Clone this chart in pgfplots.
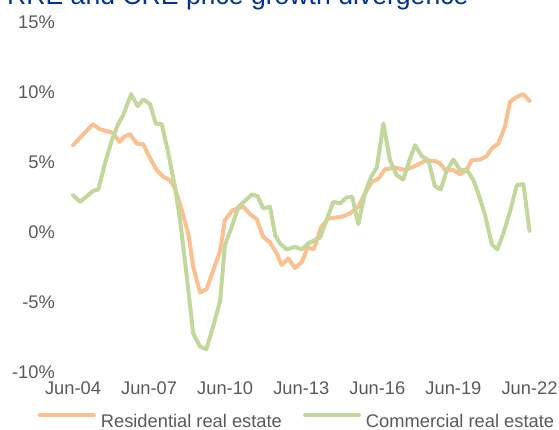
\documentclass[border=0pt]{standalone}
\usepackage{pgfplots}
\pgfplotsset{compat=1.18}
\usepackage{fontspec}
\setmainfont{Liberation Sans}
\definecolor{rre}{HTML}{FAC090}
\definecolor{cre}{HTML}{C3D69B}
\definecolor{txt}{HTML}{595959}
\definecolor{titleblue}{RGB}{0,50,153}
\begin{document}
\begin{tikzpicture}[x=1bp,y=1bp]
\useasboundingbox (0,0) rectangle (559,429);
\node[anchor=base west, inner sep=0pt, font=\fontsize{26.6bp}{30bp}\selectfont, text=titleblue] at (7,424.5) {RRE and CRE price growth divergence};
\begin{axis}[
  at={(73bp,57.3bp)}, anchor=south west,
  scale only axis, width=456.5bp, height=349.7bp,
  xmin=2004.5, xmax=2022.5, ymin=-10, ymax=15,
  clip=false,
  axis line style={draw=none},
  major tick length=0pt,
  tick style={draw=none},
  xtick={2004.5,2007.5,2010.5,2013.5,2016.5,2019.5,2022.5},
  xticklabels={Jun-04,Jun-07,Jun-10,Jun-13,Jun-16,Jun-19,Jun-22},
  ytick={-10,-5,0,5,10,15},
  yticklabels={-10\%,-5\%,0\%,5\%,10\%,15\%},
  ticklabel style={font=\fontsize{18.3bp}{21bp}\selectfont, text=txt},
  yticklabel style={anchor=east, inner sep=0pt, xshift=-18bp},
  xticklabel style={anchor=north, inner sep=0pt, yshift=-10.3bp},
  legend style={at={(0.4885,-0.141)}, anchor=center, draw=none, fill=none,
    legend columns=2, font=\fontsize{18.3bp}{21bp}\selectfont, text=txt,
    nodes={inner sep=0pt},
    /tikz/every odd column/.append style={column sep=5bp},
    /tikz/every even column/.append style={column sep=21bp}},
  legend image code/.code={\draw[#1, line width=4bp] (0bp,6bp) -- (54bp,6bp);},
  every axis plot/.append style={line width=4bp, line join=round, line cap=round},
]
\addplot[rre] coordinates {
(2004.50,6.19) (2005.28,7.69) (2005.56,7.34) (2006.08,7.07) (2006.33,6.43)
(2006.55,6.84) (2006.75,6.98) (2007.01,6.31) (2007.27,6.26) (2007.54,5.26)
(2007.80,4.41) (2008.06,3.93) (2008.32,3.69) (2008.52,3.12) (2008.79,1.55)
(2009.05,-0.16) (2009.24,-2.50) (2009.51,-4.34) (2009.77,-4.09) (2010.03,-2.74)
(2010.30,-1.38) (2010.49,0.84) (2010.79,1.55) (2011.22,1.79) (2011.48,1.26)
(2011.74,0.91) (2012.00,-0.36) (2012.27,-0.77) (2012.53,-1.54) (2012.73,-2.38)
(2012.99,-1.90) (2013.25,-2.59) (2013.52,-2.16) (2013.75,-1.13) (2014.00,-1.24)
(2014.28,0.34) (2014.57,0.96) (2015.10,1.07) (2015.42,1.31) (2015.75,1.79)
(2016.01,2.74) (2016.28,3.57) (2016.54,3.81) (2016.80,4.46) (2017.20,4.60)
(2017.59,4.41) (2018.05,4.76) (2018.38,5.07) (2018.77,5.07) (2018.97,4.89)
(2019.17,4.41) (2019.50,4.41) (2019.76,4.12) (2020.02,4.41) (2020.22,5.12)
(2020.55,5.17) (2020.81,5.41) (2021.01,5.96) (2021.27,6.31) (2021.53,7.50)
(2021.73,9.29) (2022.00,9.64) (2022.26,9.84) (2022.50,9.36)
};
\addlegendentry{Residential real estate}
\addplot[cre] coordinates {
(2004.50,2.62) (2004.78,2.14) (2005.30,2.93) (2005.50,3.03) (2005.76,4.89)
(2006.03,6.55) (2006.29,7.74) (2006.48,8.34) (2006.79,9.84) (2007.05,8.98)
(2007.27,9.46) (2007.54,9.12) (2007.76,7.74) (2008.00,7.69) (2008.26,5.60)
(2008.52,3.21) (2008.72,0.84) (2008.98,-3.09) (2009.24,-7.26) (2009.51,-8.21)
(2009.76,-8.38) (2010.03,-6.74) (2010.30,-4.95) (2010.49,-0.95) (2010.76,0.36)
(2011.02,1.79) (2011.28,2.21) (2011.55,2.67) (2011.78,2.55) (2012.00,1.67)
(2012.27,1.79) (2012.47,-0.24) (2012.66,-0.83) (2012.93,-1.26) (2013.25,-1.07)
(2013.52,-1.27) (2013.78,-0.83) (2014.24,-0.41) (2014.50,0.84) (2014.76,2.14)
(2015.03,2.03) (2015.29,2.46) (2015.51,2.50) (2015.75,0.55) (2016.01,2.74)
(2016.25,3.93) (2016.48,4.60) (2016.74,7.74) (2017.00,5.12) (2017.26,4.05)
(2017.52,3.74) (2017.79,5.24) (2017.99,6.19) (2018.25,5.41) (2018.51,5.12)
(2018.77,3.26) (2019.00,3.03) (2019.24,4.41) (2019.50,5.17) (2019.76,4.41)
(2020.02,4.46) (2020.29,3.69) (2020.48,2.74) (2020.75,1.19) (2021.01,-0.88)
(2021.23,-1.26) (2021.47,-0.11) (2021.73,1.43) (2022.00,3.34) (2022.26,3.41)
(2022.50,0.07)
};
\addlegendentry{Commercial real estate}
\end{axis}
\end{tikzpicture}
\end{document}
